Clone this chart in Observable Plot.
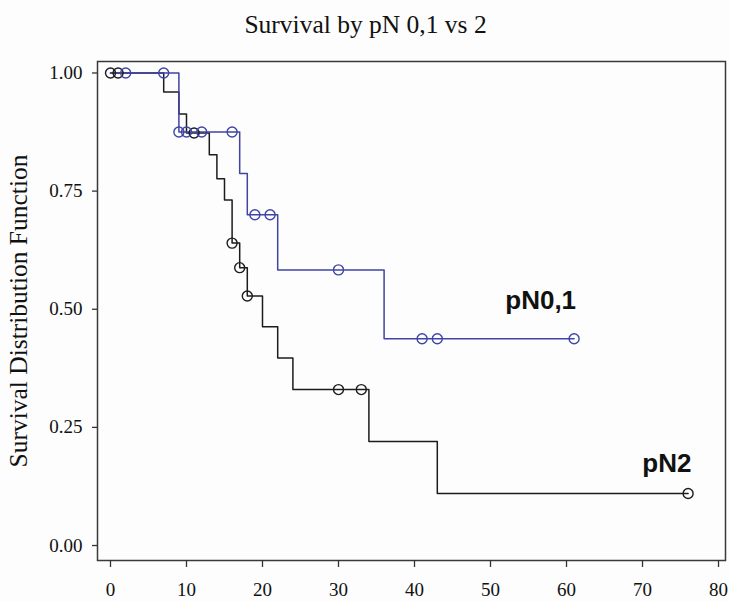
<!DOCTYPE html>
<html><head><meta charset="utf-8">
<script src="https://cdn.jsdelivr.net/npm/d3@7"></script>
<script src="https://cdn.jsdelivr.net/npm/@observablehq/plot@0.6"></script>
<style>
body{margin:0;background:#fcfdfc;}
#chart svg{background:#fcfdfc;display:block;}
</style>
</head><body><div id="chart"></div>
<script>
const title = "Survival by pN 0,1 vs 2";
const yLabel = "Survival Distribution Function";
const xTicks = [0,10,20,30,40,50,60,70,80];
const yTicks = [0,0.25,0.5,0.75,1];

const n01Time = [0,9,17,18,22,36,61];
const n01Surv = [1,0.875,0.7875,0.7,0.5833,0.4375,0.4375];
const n01CensTime = [2,7,9,10,12,16,19,21,30,41,43,61];
const n01CensSurv = [1,1,0.875,0.875,0.875,0.875,0.7,0.7,0.5833,0.4375,0.4375,0.4375];

const n2Time = [0,7,9,10,13,14,15,16,17,18,20,22,24,34,43,76];
const n2Surv = [1,0.96,0.913,0.873,0.827,0.776,0.731,0.64,0.588,0.528,0.463,0.397,0.33,0.22,0.11,0.11];
const n2CensTime = [0,1,11,16,17,18,30,33,76];
const n2CensSurv = [1,1,0.873,0.64,0.588,0.528,0.33,0.33,0.11];

const labelText = ["pN0,1","pN2"];
const labelTime = [56.6, 73.2];
const labelSurv = [0.518, 0.173];

const blue = "#3f44a6", black = "#1c1c1c";
const toRows = (xs, ys) => xs.map((x, i) => ({x, y: ys[i]}));
const n01 = toRows(n01Time, n01Surv), n2 = toRows(n2Time, n2Surv);
const n01c = toRows(n01CensTime, n01CensSurv), n2c = toRows(n2CensTime, n2CensSurv);
const labels = labelText.map((t, i) => ({t, x: labelTime[i], y: labelSurv[i]}));

const chart = Plot.plot({
  width: 730, height: 601,
  marginLeft: 97, marginRight: 5, marginTop: 61, marginBottom: 41,
  style: {fontFamily: "'Liberation Serif', serif", fontSize: "18px", color: "#111", background: "#fcfdfc"},
  x: {domain: [-1.71, 80.92]},
  y: {domain: [-0.0317, 1.0243]},
  marks: [
    Plot.frame({stroke: "#3a3a3a", strokeWidth: 1.5}),
    Plot.axisX({ticks: xTicks, tickSize: 7, tickPadding: 15, label: null, stroke: "#333", strokeWidth: 1.3, fontSize: 19}),
    Plot.axisY({ticks: yTicks, tickSize: 5, tickPadding: 10, label: null, tickFormat: d3.format(".2f"), stroke: "#333", strokeWidth: 1.3, fontSize: 19}),
    Plot.line(n2, {x: "x", y: "y", curve: "step-after", stroke: black, strokeWidth: 1.5}),
    Plot.line(n01, {x: "x", y: "y", curve: "step-after", stroke: blue, strokeWidth: 1.5}),
    Plot.dot(n2c, {x: "x", y: "y", r: 5, stroke: black, fill: "none", strokeWidth: 1.4}),
    Plot.dot(n01c, {x: "x", y: "y", r: 5, stroke: blue, fill: "none", strokeWidth: 1.4}),
    Plot.text(labels, {x: "x", y: "y", text: "t", fontFamily: "'Liberation Sans', Arial, sans-serif", fontWeight: "bold", fontSize: 26, fill: "#111"}),
    Plot.text([title], {text: d => d, frameAnchor: "top", lineAnchor: "middle", textAnchor: "middle", dy: -37, dx: -46, fontSize: 25.5, fill: "#111"}),
    Plot.text([yLabel], {text: d => d, frameAnchor: "left", textAnchor: "middle", lineAnchor: "middle", rotate: -90, dx: -79, fontSize: 25.5, fill: "#111"})
  ]
});
document.getElementById("chart").appendChild(chart);
</script>
</body></html>
